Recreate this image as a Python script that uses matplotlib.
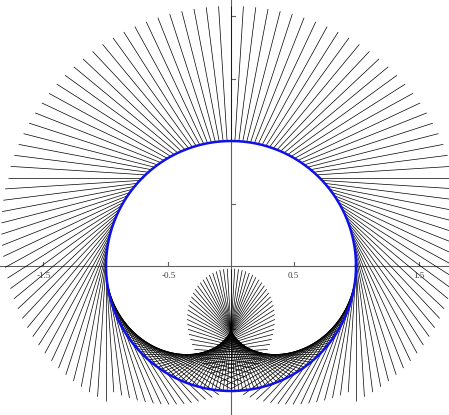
import numpy as np
import matplotlib
matplotlib.use("Agg")
import matplotlib.pyplot as plt
from matplotlib.collections import LineCollection

# ---- chart parameters (reflection of vertical parallel light on a unit circle) ----
circle_radius = 1.0
n_rays = 200                      # number of reflection points around the circle
outer_ray_length = 1.08           # reflected ray length, convex (upper) side
inner_ray_length = 0.98           # reflected ray length, concave (lower) side
light_direction = [0.0, -1.0]     # incoming light travels straight down
x_tick_values = [-1.5, -0.5, 0.5, 1.5]
x_tick_labels = ["-1.5", "-0.5", "0.5", "1.5"]
view_x = [-1.848, 1.744]
view_y = [-1.192, 2.128]

fig = plt.figure(figsize=(4.49, 4.15), dpi=100)
ax = fig.add_axes([0, 0, 1, 1])
ax.set_xlim(*view_x)
ax.set_ylim(*view_y)
ax.set_axis_off()

# axes through the origin
ax.axhline(0, color="#606060", lw=0.8, zorder=1)
ax.axvline(0, color="#606060", lw=0.8, zorder=1)

# reflected rays
theta = np.arange(n_rays) * 2 * np.pi / n_rays
px = circle_radius * np.cos(theta)
py = circle_radius * np.sin(theta)
nx, ny = np.cos(theta), np.sin(theta)
dx, dy = light_direction
dot = dx * nx + dy * ny
rx = dx - 2 * dot * nx
ry = dy - 2 * dot * ny
length = np.where(dot <= 0, outer_ray_length, inner_ray_length)
segs = np.stack([np.stack([px, py], axis=1),
                 np.stack([px + length * rx, py + length * ry], axis=1)], axis=1)
ax.add_collection(LineCollection(segs, colors="black", linewidths=0.5, zorder=2))

# the mirror circle
t = np.linspace(0, 2 * np.pi, 400)
ax.plot(circle_radius * np.cos(t), circle_radius * np.sin(t), color="#1010e8", lw=1.8, zorder=3)

# tick marks and labels
for xv, lab in zip(x_tick_values, x_tick_labels):
    ax.plot([xv, xv], [0, 0.03], color="#606060", lw=0.8, zorder=1)
    ax.text(xv, -0.05, lab, ha="center", va="top", fontsize=6.5,
            family="Liberation Serif", color="#404040", zorder=4)
for yv in [-1.0, -0.5, 0.5, 1.0, 1.5, 2.0]:
    ax.plot([0, 0.03], [yv, yv], color="#606060", lw=0.8, zorder=1)

fig.savefig("out.png", dpi=100)
